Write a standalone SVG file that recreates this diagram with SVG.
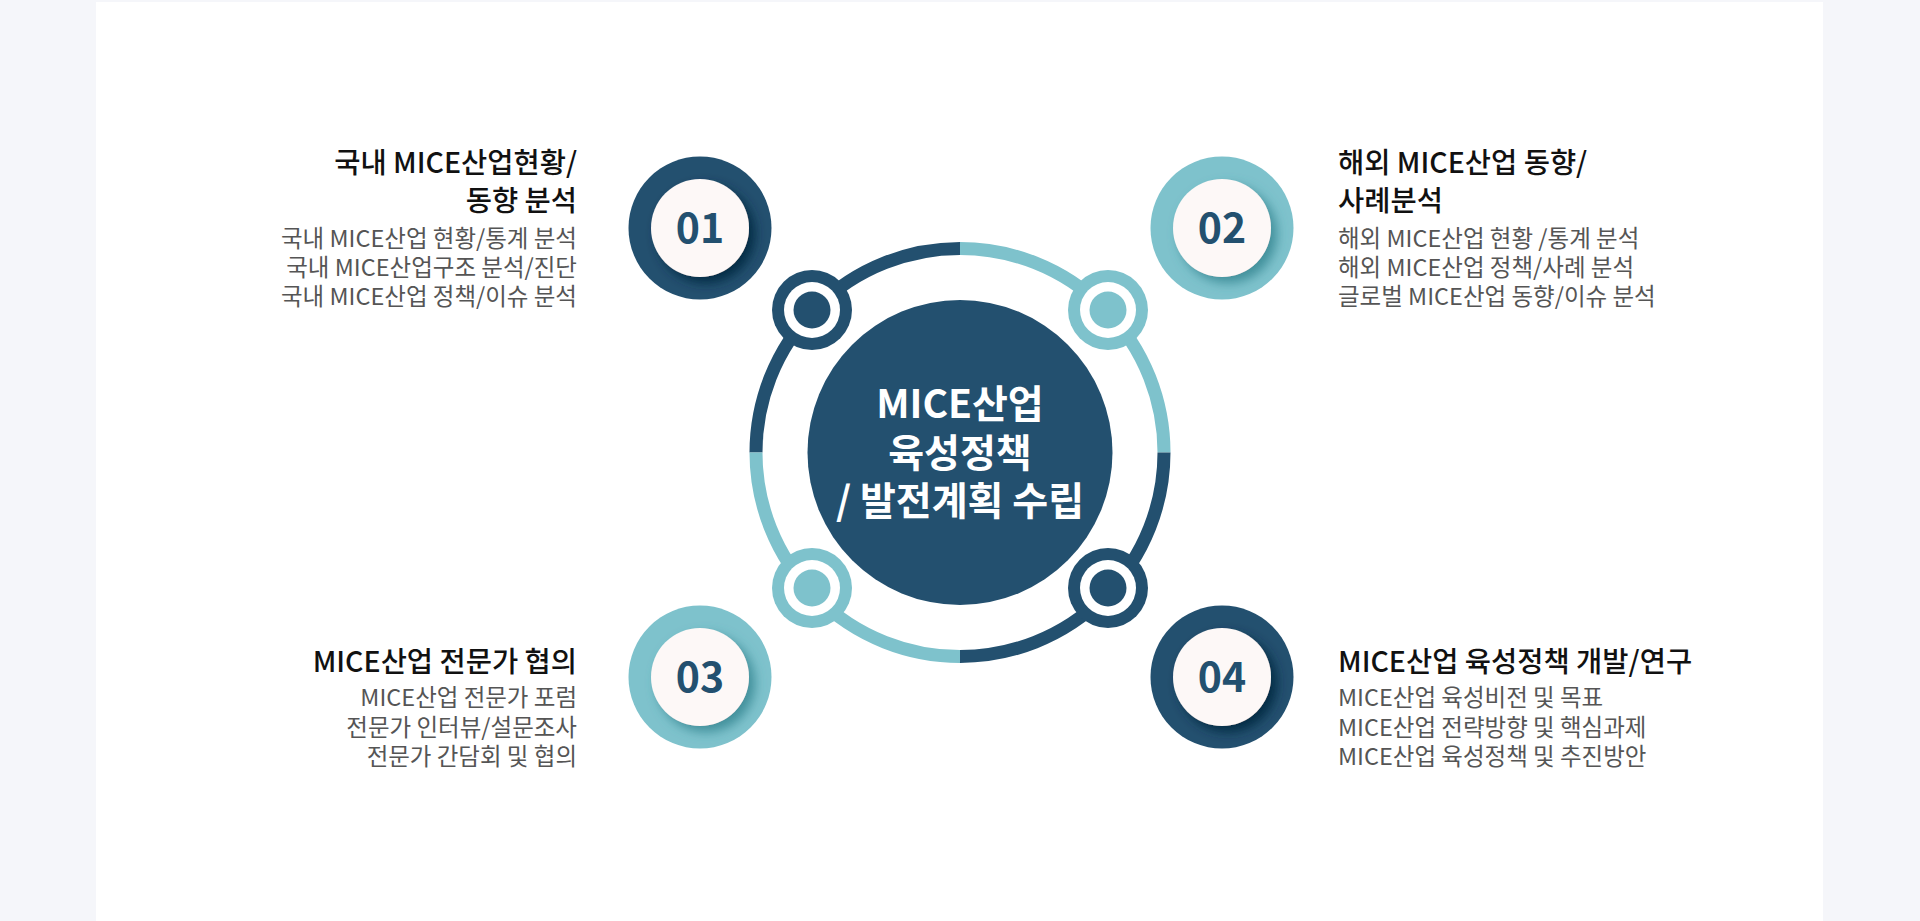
<svg xmlns="http://www.w3.org/2000/svg" width="1920" height="921" viewBox="0 0 1920 921">
  <style>
    text { font-family: "Noto Sans CJK KR", "Noto Sans", sans-serif; }
    .title { font-size: 28.5px; font-weight: 500; fill: #111111; }
    .sub { font-size: 23.5px; font-weight: 400; fill: #555555; }
    .num { font-size: 41px; font-weight: 700; fill: #23506f; text-anchor: middle; }
    .center { font-size: 39px; font-weight: 700; fill: #ffffff; text-anchor: middle; }
    .dark { fill: #23506f; }
    .light { fill: #7ec2cc; }
    .ring-dark { fill: none; stroke: #23506f; stroke-width: 13; }
    .ring-light { fill: none; stroke: #7ec2cc; stroke-width: 13; }
    .face { fill: #fdf8f7; }
    .r { text-anchor: end; }
  </style>
  <defs>
    <filter id="shDark" x="-40%" y="-40%" width="180%" height="180%">
      <feDropShadow dx="6" dy="6" stdDeviation="5.5" flood-color="#062640" flood-opacity="0.9"/>
    </filter>
    <filter id="shLight" x="-40%" y="-40%" width="180%" height="180%">
      <feDropShadow dx="6" dy="6" stdDeviation="5.5" flood-color="#3a8a96" flood-opacity="0.9"/>
    </filter>
  </defs>

  <rect x="0" y="0" width="1920" height="921" fill="#f5f6fa"/>
  <rect x="96" y="2" width="1727" height="919" fill="#ffffff"/>

  <g id="connectors">
    <path class="ring-dark" d="M 756 452.5 A 204 204 0 0 1 960 248.5"/>
    <path class="ring-light" d="M 960 248.5 A 204 204 0 0 1 1164 452.5"/>
    <path class="ring-dark" d="M 1164 452.5 A 204 204 0 0 1 960 656.5"/>
    <path class="ring-light" d="M 960 656.5 A 204 204 0 0 1 756 452.5"/>
  </g>

  <g id="joint-tl">
    <circle class="dark" cx="812" cy="310" r="40"/>
    <circle cx="812" cy="310" r="28" fill="#ffffff"/>
    <circle class="dark" cx="812" cy="310" r="18.5"/>
  </g>
  <g id="joint-tr">
    <circle class="light" cx="1108" cy="310" r="40"/>
    <circle cx="1108" cy="310" r="28" fill="#ffffff"/>
    <circle class="light" cx="1108" cy="310" r="18.5"/>
  </g>
  <g id="joint-bl">
    <circle class="light" cx="812" cy="588" r="40"/>
    <circle cx="812" cy="588" r="28" fill="#ffffff"/>
    <circle class="light" cx="812" cy="588" r="18.5"/>
  </g>
  <g id="joint-br">
    <circle class="dark" cx="1108" cy="588" r="40"/>
    <circle cx="1108" cy="588" r="28" fill="#ffffff"/>
    <circle class="dark" cx="1108" cy="588" r="18.5"/>
  </g>

  <g id="center">
    <circle class="dark" cx="960" cy="452.5" r="152.5"/>
    <text class="center" x="960" y="418">MICE산업</text>
    <text class="center" x="960" y="467">육성정책</text>
    <text class="center" x="960" y="515">/ 발전계획 수립</text>
  </g>

  <g id="node-01">
    <circle class="dark" cx="700" cy="228" r="71.5"/>
    <circle class="face" cx="700" cy="228" r="49" filter="url(#shDark)"/>
    <text class="num" x="700" y="243">01</text>
    <text class="title r" x="577" y="173">국내 MICE산업현황/</text>
    <text class="title r" x="577" y="211">동향 분석</text>
    <text class="sub r" x="577" y="247">국내 MICE산업 현황/통계 분석</text>
    <text class="sub r" x="577" y="276">국내 MICE산업구조 분석/진단</text>
    <text class="sub r" x="577" y="305">국내 MICE산업 정책/이슈 분석</text>
  </g>

  <g id="node-02">
    <circle class="light" cx="1222" cy="228" r="71.5"/>
    <circle class="face" cx="1222" cy="228" r="49" filter="url(#shLight)"/>
    <text class="num" x="1222" y="243">02</text>
    <text class="title" x="1338" y="173">해외 MICE산업 동향/</text>
    <text class="title" x="1338" y="211">사례분석</text>
    <text class="sub" x="1338" y="247">해외 MICE산업 현황 /통계 분석</text>
    <text class="sub" x="1338" y="276">해외 MICE산업 정책/사례 분석</text>
    <text class="sub" x="1338" y="305">글로벌 MICE산업 동향/이슈 분석</text>
  </g>

  <g id="node-03">
    <circle class="light" cx="700" cy="677" r="71.5"/>
    <circle class="face" cx="700" cy="677" r="49" filter="url(#shLight)"/>
    <text class="num" x="700" y="692">03</text>
    <text class="title r" x="577" y="672">MICE산업 전문가 협의</text>
    <text class="sub r" x="577" y="706">MICE산업 전문가 포럼</text>
    <text class="sub r" x="577" y="735.5">전문가 인터뷰/설문조사</text>
    <text class="sub r" x="577" y="765">전문가 간담회 및 협의</text>
  </g>

  <g id="node-04">
    <circle class="dark" cx="1222" cy="677" r="71.5"/>
    <circle class="face" cx="1222" cy="677" r="49" filter="url(#shDark)"/>
    <text class="num" x="1222" y="692">04</text>
    <text class="title" x="1338" y="672">MICE산업 육성정책 개발/연구</text>
    <text class="sub" x="1338" y="706">MICE산업 육성비전 및 목표</text>
    <text class="sub" x="1338" y="735.5">MICE산업 전략방향 및 핵심과제</text>
    <text class="sub" x="1338" y="765">MICE산업 육성정책 및 추진방안</text>
  </g>
</svg>
